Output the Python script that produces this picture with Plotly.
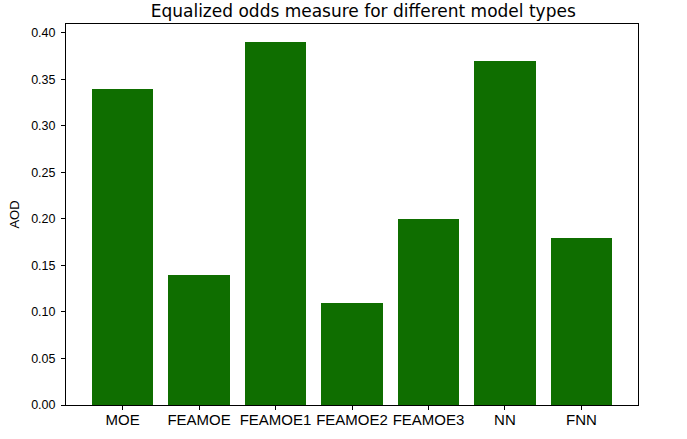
import plotly.graph_objects as go

categories = ["MOE", "FEAMOE", "FEAMOE1", "FEAMOE2", "FEAMOE3", "NN", "FNN"]
aod_values = [0.34, 0.14, 0.39, 0.11, 0.20, 0.37, 0.18]
y_ticks = [0.00, 0.05, 0.10, 0.15, 0.20, 0.25, 0.30, 0.35, 0.40]

fig = go.Figure(go.Bar(
    x=list(range(len(categories))), y=aod_values, width=0.8,
    marker=dict(color="#0f6e00", line=dict(width=0)),
    hoverinfo="skip",
))

fig.update_layout(
    width=687, height=439,
    margin=dict(l=66, r=49, t=24, b=34, autoexpand=False),
    paper_bgcolor="white", plot_bgcolor="white",
    font=dict(family="Liberation Sans, Arial, sans-serif", color="black"),
    title=dict(text="Equalized odds measure for different model types",
               x=357 / 687, xanchor="center", y=1 - 11/439, yanchor="middle",
               xref="paper", font=dict(family="DejaVu Sans", size=17)),
    showlegend=False,
    bargap=0,
)
fig.update_xaxes(
    range=[-0.74, 6.74], tickmode="array",
    tickvals=list(range(len(categories))), ticktext=categories,
    ticks="outside", ticklen=4, tickcolor="black",
    showline=True, linecolor="black", linewidth=1, mirror=True,
    showgrid=False, zeroline=False, tickfont=dict(size=15), automargin=False,
    ticklabelstandoff=-3,
)
fig.update_yaxes(
    range=[0, 0.4095], tickmode="array", tickvals=y_ticks,
    ticktext=[f"{v:.2f}" for v in y_ticks],
    ticks="outside", ticklen=4, tickcolor="black",
    showline=True, linecolor="black", linewidth=1, mirror=True,
    showgrid=False, zeroline=False, tickfont=dict(size=12.5), automargin=False,
    ticklabelstandoff=3,
    title=dict(text="AOD", font=dict(size=13), standoff=8),
)

fig.write_html("out.html", config={"displayModeBar": False},
               post_script="document.body.style.margin='0';")
